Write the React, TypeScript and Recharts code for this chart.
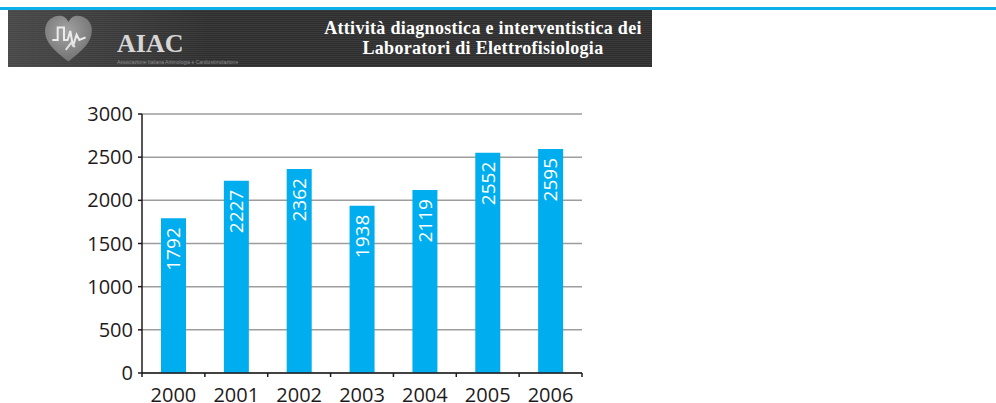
import React from "react";
import { BarChart, Bar, XAxis, YAxis, CartesianGrid, LabelList } from "recharts";

const years = ["2000", "2001", "2002", "2003", "2004", "2005", "2006"];
const procedures = [1792, 2227, 2362, 1938, 2119, 2552, 2595];
const yTicks = [0, 500, 1000, 1500, 2000, 2500, 3000];
const titleLines = ["Attività diagnostica e interventistica dei", "Laboratori di Elettrofisiologia"];
const logoText = "AIAC";
const logoSub = "Associazione Italiana Aritmologia e Cardiostimolazione";

const data = years.map((y, i) => ({ year: y, value: procedures[i] }));

const FONT = "'Open Sans', 'DejaVu Sans', sans-serif";
const BLUE = "#00adef";
const INK = "#1f1b1c";

const XTick = (props: any) => {
  const { x, y, payload, index } = props;
  const half = payload && typeof payload.offset === "number" && payload.offset > 0 ? payload.offset : 31.43;
  return (
    <g>
      {index === 0 && <line x1={x - half} x2={x - half} y1={y} y2={y + 4} stroke={INK} strokeWidth={1.5} />}
      <line x1={x + half} x2={x + half} y1={y} y2={y + 4} stroke={INK} strokeWidth={1.5} />
      <text x={x} y={y + 15} dy="0.71em" textAnchor="middle" fill={INK} fontSize={20} fontFamily={FONT}>
        {payload.value}
      </text>
    </g>
  );
};

const BarValue = (props: any) => {
  const { x, y, width, value } = props;
  const cx = x + width / 2;
  const ty = y + 9;
  return (
    <text
      x={cx}
      y={ty}
      dy="0.36em"
      textAnchor="end"
      transform={`rotate(-90, ${cx}, ${ty})`}
      fill="#ffffff"
      fontSize={19}
      fontFamily={FONT}
    >
      {value}
    </text>
  );
};

const Heart = () => (
  <svg width={63} height={50.4} viewBox="0 0 70 56" style={{ position: "absolute", left: 29, top: 3.3 }}>
    <defs>
      <radialGradient id="hg" cx="0.45" cy="0.35" r="0.75">
        <stop offset="0" stopColor="#a4a4a4" />
        <stop offset="1" stopColor="#6a6a6a" />
      </radialGradient>
    </defs>
    <path
      d="M35 54 C20 42 8 33 9 18 C10 8 18 3 25 3 C30 3 33 6 35 10 C37 6 40 3 45 3 C53 3 61 9 61 19 C61 33 50 42 35 54 Z"
      fill="url(#hg)"
    />
    <path
      d="M17 30 L23 30 L23 16 L30 16 L30 30 L34 30 L37 20 L40 37 L44 24 L47 30 L54 27"
      fill="none"
      stroke="#ececec"
      strokeWidth={2.2}
    />
    <path d="M32 41 L38 33 L42 38" fill="none" stroke="#e0e0e0" strokeWidth={2.2} />
  </svg>
);

const titleStyle: React.CSSProperties = {
  position: "absolute",
  left: 275,
  width: 400,
  textAlign: "center",
  fontFamily: "'Liberation Serif', 'DejaVu Serif', serif",
  fontWeight: "bold",
  fontSize: 18,
  letterSpacing: 0.3,
  lineHeight: "20px",
  height: 20,
  color: "#ffffff",
  whiteSpace: "nowrap",
};

export default function App() {
  return (
    <div style={{ position: "absolute", left: 0, top: 0, width: 996, height: 403, background: "#ffffff", overflow: "hidden" }}>
      <div style={{ position: "absolute", left: 0, top: 7, width: 996, height: 3, background: "#0cb1ea" }} />
      <div
        style={{
          position: "absolute",
          left: 8,
          top: 10,
          width: 644,
          height: 57,
          background: "repeating-linear-gradient(0deg, #3b3b3b 0px, #3b3b3b 1px, #2d2d2d 1px, #2d2d2d 2px)",
        }}
      >
        <div
          style={{
            position: "absolute",
            left: 0,
            top: 0,
            width: 200,
            height: 57,
            background:
              "linear-gradient(90deg, rgba(120,120,120,0.35), rgba(120,120,120,0.15) 60%, rgba(120,120,120,0))",
          }}
        />
        <Heart />
        <div
          style={{
            position: "absolute",
            left: 109,
            top: 23,
            fontFamily: "'Liberation Serif', 'DejaVu Serif', serif",
            fontWeight: "bold",
            fontSize: 26,
            color: "#d6d6d6",
            lineHeight: "22px",
          }}
        >
          {logoText}
        </div>
        <div
          style={{
            position: "absolute",
            left: 109,
            top: 48.5,
            fontFamily: "'Liberation Sans', sans-serif",
            fontSize: 5,
            lineHeight: "6px",
            color: "#8f8f8f",
            whiteSpace: "nowrap",
          }}
        >
          {logoSub}
        </div>
        <div style={{ ...titleStyle, top: 7.9 }}>{titleLines[0]}</div>
        <div style={{ ...titleStyle, top: 27.9 }}>{titleLines[1]}</div>
      </div>

      <div style={{ position: "absolute", left: 0, top: 100 }}>
        <BarChart width={600} height={303} data={data} margin={{ top: 14, right: 18, bottom: 0, left: 0 }}>
          <CartesianGrid vertical={false} stroke="#9d9d9d" strokeWidth={1.5} />
          <XAxis
            dataKey="year"
            height={30}
            axisLine={{ stroke: INK, strokeWidth: 1.5 }}
            tickLine={false}
            tickSize={0}
            tickMargin={0}
            tick={<XTick />}
            interval={0}
          />
          <YAxis
            width={142}
            domain={[0, 3000]}
            ticks={yTicks}
            interval={0}
            axisLine={{ stroke: INK, strokeWidth: 1.5 }}
            tickLine={{ stroke: INK, strokeWidth: 1.5 }}
            tickSize={4}
            tickMargin={5}
            tick={{ fill: INK, fontSize: 20, fontFamily: FONT }}
          />
          <Bar dataKey="value" fill={BLUE} barSize={25} isAnimationActive={false}>
            <LabelList dataKey="value" content={<BarValue />} />
          </Bar>
        </BarChart>
      </div>
    </div>
  );
}
